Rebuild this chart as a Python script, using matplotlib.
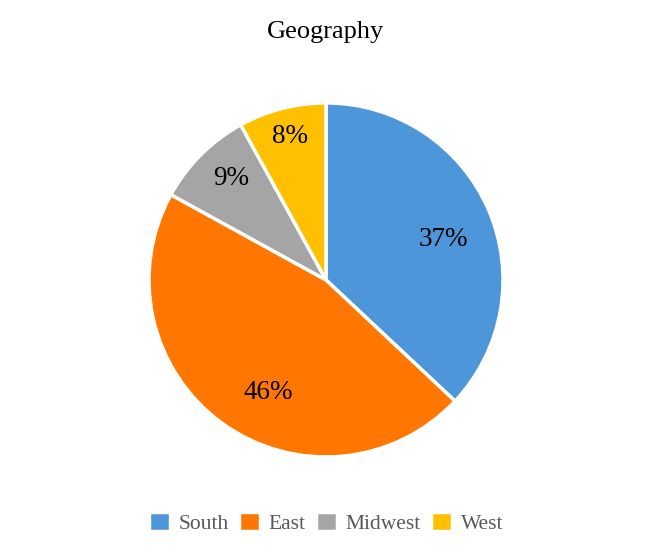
import numpy as np
import matplotlib.pyplot as plt

plt.rcParams['font.family'] = ['Liberation Serif', 'DejaVu Serif']

regions = ['South', 'East', 'Midwest', 'West']
shares = [37, 46, 9, 8]
colors = ['#4E96DA', '#FF7700', '#A5A5A5', '#FFC000']
# label placement: distance from centre (fraction of radius), angle shift from wedge middle
label_dist = [0.71, 0.70, 0.80, 0.85]
label_shift = [-3.0, 8.0, -2.8, -0.6]

fig = plt.figure(figsize=(6.52, 5.56), dpi=100)
fig.text(0.5, 0.942, 'Geography', ha='center', va='center', fontsize=19)

ax = fig.add_axes([0.2285, 0.178, 0.543, 0.637])
wedges, _ = ax.pie(shares, colors=colors, startangle=90, counterclock=False,
                   wedgeprops=dict(edgecolor='white', linewidth=2.5))
ax.set_xlim(-1, 1)
ax.set_ylim(-1, 1)
ax.set_aspect('equal')

total = sum(shares)
for w, v, d, s in zip(wedges, shares, label_dist, label_shift):
    ang = np.deg2rad((w.theta1 + w.theta2) / 2 + s)
    ax.text(d * np.cos(ang), d * np.sin(ang), f'{round(100 * v / total)}%',
            ha='center', va='center_baseline', fontsize=19.5)

leg = fig.legend(wedges, regions, loc='center', bbox_to_anchor=(0.5, 0.059),
                 ncol=4, frameon=False, fontsize=15.5, handlelength=1.0,
                 handleheight=1.0, handletextpad=0.4, columnspacing=0.45)
for t in leg.get_texts():
    t.set_color('#595959')

fig.savefig('out.png', dpi=100)
